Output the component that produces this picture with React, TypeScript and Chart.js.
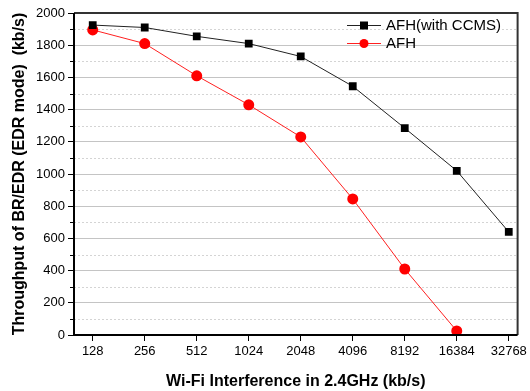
import React, { useEffect, useRef } from "react";
import { Chart, registerables } from "chart.js";
Chart.register(...registerables);

const categories = ["128", "256", "512", "1024", "2048", "4096", "8192", "16384", "32768"];
const afhCcms = [1925, 1910, 1855, 1810, 1730, 1545, 1285, 1020, 640];
const afh = [1895, 1810, 1610, 1430, 1230, 845, 410, 25];
const yTicks = [0, 200, 400, 600, 800, 1000, 1200, 1400, 1600, 1800, 2000];
const yMinor = [100, 300, 500, 700, 900, 1100, 1300, 1500, 1700, 1900];

const FONT = "'Liberation Sans', Arial, sans-serif";

const framePlugin = {
  id: "frame",
  beforeDatasetsDraw(chart: any) {
    const { ctx, chartArea: a, scales } = chart;
    const y = scales.y;
    ctx.save();
    ctx.strokeStyle = "#d4d4d4";
    ctx.lineWidth = 1;
    ctx.setLineDash([2, 2]);
    yMinor.forEach((v) => {
      const py = Math.round(y.getPixelForValue(v)) + 0.5;
      ctx.beginPath();
      ctx.moveTo(a.left, py);
      ctx.lineTo(a.right, py);
      ctx.stroke();
    });
    ctx.restore();
  },
  afterDraw(chart: any) {
    const { ctx, chartArea: a, scales } = chart;
    const y = scales.y;
    ctx.save();
    ctx.strokeStyle = "#000";
    ctx.lineWidth = 1;
    yMinor.forEach((v) => {
      const py = Math.round(y.getPixelForValue(v)) + 0.5;
      ctx.beginPath();
      ctx.moveTo(a.left - 4, py);
      ctx.lineTo(a.left, py);
      ctx.stroke();
    });
    ctx.lineWidth = 2;
    ctx.strokeStyle = "#333";
    ctx.beginPath();
    ctx.moveTo(a.left, a.top);
    ctx.lineTo(a.right, a.top);
    ctx.lineTo(a.right, a.bottom);
    ctx.stroke();
    ctx.strokeStyle = "#000";
    ctx.beginPath();
    ctx.moveTo(a.left, a.top);
    ctx.lineTo(a.left, a.bottom);
    ctx.lineTo(a.right, a.bottom);
    ctx.stroke();
    const items = chart.data.datasets;
    const x0 = 347, x1 = 381;
    items.forEach((ds: any, i: number) => {
      const ly = 25 + i * 18;
      ctx.strokeStyle = ds.borderColor;
      ctx.lineWidth = 1;
      ctx.beginPath();
      ctx.moveTo(x0, ly + 0.5);
      ctx.lineTo(x1, ly + 0.5);
      ctx.stroke();
      ctx.fillStyle = ds.pointBackgroundColor;
      const mx = (x0 + x1) / 2;
      if (ds.pointStyle === "rect") {
        ctx.fillRect(mx - 4, ly - 3.5, 8, 8);
      } else {
        ctx.beginPath();
        ctx.arc(mx, ly + 0.5, 4.5, 0, Math.PI * 2);
        ctx.fill();
      }
      ctx.fillStyle = "#000";
      ctx.font = `15px ${FONT}`;
      ctx.textBaseline = "middle";
      ctx.textAlign = "left";
      ctx.fillText(ds.label, 386, ly + 1);
    });
    ctx.restore();
  },
};

export default function App() {
  const ref = useRef<HTMLCanvasElement | null>(null);
  useEffect(() => {
    document.body.style.margin = "0";
    const chart = new Chart(ref.current as HTMLCanvasElement, {
      type: "line",
      data: {
        datasets: [
          {
            label: "AFH(with CCMS)",
            data: afhCcms.map((v, i) => ({ x: i, y: v })),
            borderColor: "#222",
            backgroundColor: "#000",
            pointBackgroundColor: "#000",
            pointBorderColor: "#000",
            borderWidth: 1,
            pointStyle: "rect",
            pointRadius: 5.5,
            pointBorderWidth: 0,
          },
          {
            label: "AFH",
            data: afh.map((v, i) => ({ x: i, y: v })),
            borderColor: "#ff2020",
            backgroundColor: "#ff0000",
            pointBackgroundColor: "#ff0000",
            pointBorderColor: "#ff0000",
            borderWidth: 1,
            pointStyle: "circle",
            pointRadius: 5.5,
            pointBorderWidth: 0,
          },
        ],
      },
      options: {
        animation: false,
        responsive: false,
        layout: { padding: { top: 13, right: 8, left: 0, bottom: 0 } },
        plugins: { legend: { display: false }, tooltip: { enabled: false } },
        scales: {
          x: {
            type: "linear",
            min: -0.36,
            max: 8.17,
            afterBuildTicks: (s: any) => {
              s.ticks = categories.map((_, i) => ({ value: i }));
            },
            afterFit: (s: any) => {
              s.height = 56;
            },
            grid: { drawOnChartArea: false, tickLength: 6, tickColor: "#000", tickWidth: 1 },
            border: { display: false },
            ticks: {
              autoSkip: false,
              maxRotation: 0,
              color: "#000",
              padding: 3,
              font: { family: FONT, size: 13 },
              callback: (v: any) => categories[v as number] ?? "",
            },
            title: {
              display: true,
              text: "Wi-Fi Interference in 2.4GHz (kb/s)",
              color: "#000",
              font: { family: FONT, size: 16, weight: "bold" },
              padding: { top: 0, bottom: 0 },
            },
          },
          y: {
            min: 0,
            max: 2000,
            afterBuildTicks: (s: any) => {
              s.ticks = yTicks.map((v) => ({ value: v }));
            },
            afterFit: (s: any) => {
              s.width = 74;
            },
            grid: {
              color: (c: any) => (c.tick && (c.tick.value === 0 || c.tick.value === 2000) ? "rgba(0,0,0,0)" : "#c4c4c4"),
              tickColor: "#000",
              tickLength: 6,
              lineWidth: 1,
            },
            border: { display: false },
            ticks: {
              color: "#000",
              padding: 3,
              font: { family: FONT, size: 13 },
              callback: (v: any) => String(v),
            },
            title: {
              display: true,
              text: "Throughput of BR/EDR (EDR mode)  (kb/s)",
              color: "#000",
              font: { family: FONT, size: 16, weight: "bold" },
              padding: { top: 10, bottom: 0 },
            },
          },
        },
      },
      plugins: [framePlugin],
    } as any);
    return () => chart.destroy();
  }, []);
  return (
    <div style={{ width: 530, height: 391, background: "#fff" }}>
      <canvas ref={ref} width={530} height={391} />
    </div>
  );
}
